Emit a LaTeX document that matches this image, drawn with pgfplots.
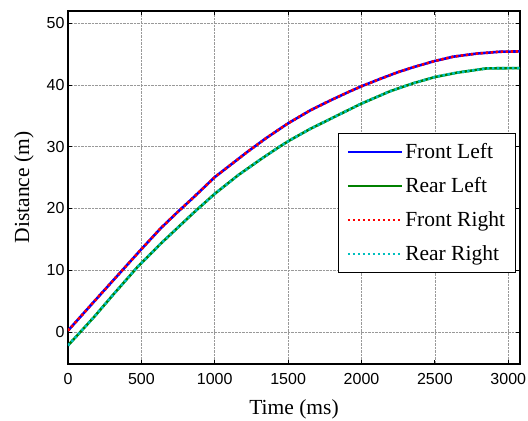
\documentclass[border=0pt]{standalone}
\usepackage{fontspec}
\setmainfont{Liberation Serif}
\newfontfamily\arialf{Liberation Sans}
\usepackage{pgfplots}
\pgfplotsset{compat=1.18}
\definecolor{mgreen}{rgb}{0,0.5,0}
\definecolor{mcyan}{rgb}{0,0.75,0.75}
\pgfplotstableread{
t d
0 0.2
177 4.9
382 10.3
496 13.3
632 16.8
746 19.4
860 21.9
1001 25.1
1224 29.2
1350 31.4
1500 33.8
1651 35.9
1787 37.5
1923 39.0
2000 39.8
2127 41.0
2250 42.1
2354 42.9
2500 43.9
2626 44.6
2785 45.1
2944 45.4
3080 45.45
}\front
\pgfplotstableread{
t d
0 -2.2
177 2.4
314 6.2
473 10.5
632 14.3
860 19.4
1001 22.4
1160 25.4
1315 28.0
1447 30.1
1515 31.1
1651 32.9
1787 34.5
1923 36.1
2000 37.0
2127 38.3
2195 39.0
2354 40.3
2500 41.3
2649 42.0
2853 42.7
3080 42.75
}\rear
\begin{document}
\begin{tikzpicture}
\begin{axis}[
  scale only axis,
  width=452pt, height=353pt,
  xmin=0, xmax=3080, ymin=-5.2, ymax=52,
  xtick={0,500,1000,1500,2000,2500,3000},
  ytick={0,10,20,30,40,50},
  /pgf/number format/assume math mode=true,
  /pgf/number format/1000 sep={},
  tick label style={font=\arialf\fontsize{16}{19}\selectfont},
  xticklabel style={yshift=-6pt},
  label style={font=\fontsize{21.5}{25}\selectfont},
  xlabel={Time (ms)}, ylabel={Distance (m)},
  xlabel style={yshift=-8pt},
  ylabel style={yshift=6pt},
  tick align=inside, major tick length=4pt,
  axis line style={line width=1.1pt},
  tick style={black, line width=0.8pt},
  grid=major,
  major grid style={gray!80, densely dotted, line width=0.6pt},
  legend style={at={(0.991,0.654)}, anchor=north east, draw=black, line width=0.8pt,
    font=\fontsize{21.5}{25}\selectfont, row sep=13.5pt, inner xsep=8.5pt, inner ysep=8pt},
  legend cell align=left,
  legend image code/.code={\draw[#1] (0pt,0pt) -- (54pt,0pt);},
]
\addplot[blue, line width=2.6pt] table[x=t,y=d] {\front};
\addlegendentry{Front Left}
\addplot[mgreen, line width=2.6pt] table[x=t,y=d] {\rear};
\addlegendentry{Rear Left}
\addplot[red, line width=2.6pt, dash pattern=on 2.5pt off 2.5pt] table[x=t,y=d] {\front};
\addlegendentry{Front Right}
\addplot[mcyan, line width=2.6pt, dash pattern=on 2.5pt off 2.5pt] table[x=t,y=d] {\rear};
\addlegendentry{Rear Right}
\end{axis}
\pgfresetboundingbox
\path[use as bounding box] ([xshift=-68pt,yshift=-57pt]current axis.south west) rectangle ([xshift=8pt,yshift=11pt]current axis.north east);
\end{tikzpicture}
\end{document}
